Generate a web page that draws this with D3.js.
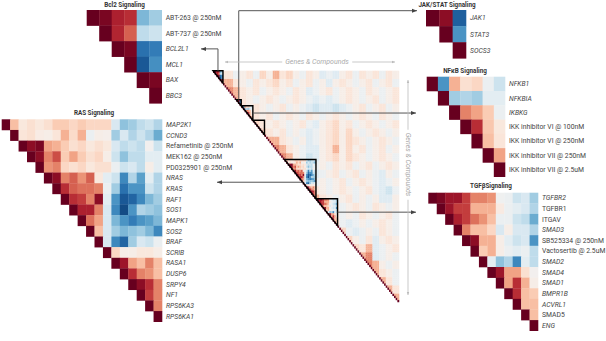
<!DOCTYPE html>
<html>
<head>
<meta charset="utf-8">
<script src="https://cdn.jsdelivr.net/npm/d3@7"></script>
<style>
body { margin: 0; background: #fff; }
text { font-family: Roboto, "Open Sans", sans-serif; }
</style>
</head>
<body>
<svg width="606" height="341"></svg>
<script>

// ---------- data ----------
// each values row starts at the diagonal (upper triangle only)
var bcl2Labels = ["ABT-263 @ 250nM", "ABT-737 @ 250nM", "BCL2L1", "MCL1", "BAX", "BBC3"];
var bcl2Values = [
  [1, 0.95, 0.8, 0.75, -0.45, -0.35],
  [1, 0.78, 0.6, -0.25, -0.2],
  [1, 0.95, -0.75, -0.7],
  [1, -0.85, -0.62],
  [1, 0.95],
  [1]
];

var jakLabels = ["JAK1", "STAT3", "SOCS3"];
var jakValues = [
  [1, 0.9, -0.82],
  [1, -0.6],
  [1]
];

var nfkbLabels = ["NFKB1", "NFKBIA", "IKBKG", "IKK inhibitor VI @ 100nM", "IKK inhibitor VI @ 250nM",
  "IKK inhibitor VII @ 250nM", "IKK inhibitor VII @ 2.5uM"];
var nfkbValues = [
  [1, -0.6, 0.35, 0.15, 0.2, -0.05, -0.2],
  [1, -0.35, -0.3, -0.35, -0.1, -0.1],
  [1, 0.5, 0.4, 0.25, -0.05],
  [1, 0.75, 0.27, 0.1],
  [1, 0.3, 0.12],
  [1, 0.4],
  [1]
];

var rasLabels = ["MAP2K1", "CCND3", "Refametinib @ 250nM", "MEK162 @ 250nM", "PD0325901 @ 250nM", "NRAS", "KRAS",
  "RAF1", "SOS1", "MAPK1", "SOS2", "BRAF", "SCRIB", "RASA1", "DUSP6", "SRPY4", "NF1", "RPS6KA3", "RPS6KA1"];
var rasValues = [
  [1, 0.3, 0.1, 0.15, 0.1, 0.15, 0.25, 0.25, 0.2, 0.25, 0.2, 0.2, 0.2, -0.15, -0.4, -0.35, -0.25, -0.2, -0.3],
  [1, 0.12, 0.15, 0.07, 0.05, 0.12, 0.35, 0.18, 0.35, -0.05, 0.05, 0.03, -0.35, -0.15, -0.3, -0.2, -0.3, -0.5],
  [1, 0.9, 0.95, 0.4, 0.35, 0.25, 0.15, 0.2, 0.1, 0.15, 0.1, -0.15, -0.25, -0.2, -0.25, 0, -0.2],
  [1, 0.9, 0.5, 0.65, 0.25, 0.4, 0.25, 0.15, 0.2, 0.05, -0.2, -0.4, -0.25, -0.25, -0.1, -0.1],
  [1, 0.45, 0.5, 0.2, 0.15, 0.2, 0.1, 0.15, 0.15, -0.05, -0.2, -0.15, -0.25, 0.05, -0.1],
  [1, 0.9, 0.5, 0.6, 0.45, 0.6, 0.1, -0.1, -0.2, -0.65, -0.3, -0.55, -0.1, -0.3],
  [1, 0.75, 0.6, 0.55, 0.55, 0.5, -0.05, -0.35, -0.75, -0.6, -0.6, -0.2, -0.3],
  [1, 0.75, 0.7, 0.5, 0.9, -0.1, -0.6, -0.85, -0.8, -0.65, -0.45, -0.35],
  [1, 0.8, 0.8, 0.5, -0.15, -0.65, -0.9, -0.6, -0.3, -0.35, -0.4],
  [1, 0.55, 0.4, -0.15, -0.45, -0.6, -0.7, -0.6, -0.55, -0.45],
  [1, 0.3, -0.15, -0.35, -0.45, -0.4, -0.35, -0.45, -0.65],
  [1, -0.15, -0.65, -0.8, -0.35, -0.15, -0.2, -0.05],
  [1, 0.2, 0.05, 0.05, 0.1, 0.1, 0.05],
  [1, 0.85, 0.4, 0.3, 0.5, 0.3],
  [1, 0.75, 0.5, 0.45, 0.3],
  [1, 0.9, 0.75, 0.5],
  [1, 0.7, 0.5],
  [1, 0.5],
  [1]
];

var tgfLabels = ["TGFBR2", "TGFBR1", "ITGAV", "SMAD3", "SB525334 @ 250nM", "Vactosertib @ 2.5uM", "SMAD2",
  "SMAD4", "SMAD1", "BMPR1B", "ACVRL1", "SMAD5", "ENG"];
var tgfValues = [
  [1, 0.95, 0.85, 0.85, 0.7, 0.5, 0.5, 0.45, -0.02, -0.05, -0.2, -0.15, -0.35],
  [1, 0.85, 0.7, 0.7, 0.35, 0.35, 0.35, 0.08, -0.05, -0.1, -0.15, -0.3],
  [1, 0.8, 0.7, 0.55, 0.45, 0.3, -0.05, -0.05, -0.2, -0.25, -0.5],
  [1, 0.5, 0.3, 0.3, 0.2, -0.15, 0.05, -0.15, -0.15, -0.3],
  [1, 0.9, 0.35, 0.35, 0.05, -0.1, -0.2, -0.15, -0.6],
  [1, 0.25, 0.35, 0.05, -0.05, -0.1, -0.05, -0.25],
  [1, -0.1, -0.4, -0.3, -0.65, -0.1, -0.25],
  [1, 0.85, 0.4, 0.4, 0.15, 0],
  [1, 0.4, 0.75, 0.35, 0.05],
  [1, 0.75, 0.3, 0.25],
  [1, 0.3, 0.3],
  [1, 0.3],
  [1]
];
var uprightGenes = ["TGFBR1", "ITGAV", "SMAD5"];

// full matrix: 112 genes & compounds, read in 4x4 blocks (each string starts at the diagonal block)
var centerN = 112;
var blockLevels = [-0.35, -0.2, -0.12, -0.05, 0, 0.05, 0.12, 0.2, 0.35, 0.5];
var centerBlocks = [
  "9663563758675365232563656365",
  "886536567563563525653563563",
  "98656356536523563565365356",
  "8653565356532323565356356",
  "656535635321221235635635",
  "66563565365356535653653",
  "7656535632567563565356",
  "765635323567575356535",
  "88653523567576535653",
  "9865322568575635635",
  "985312567576535653",
  "86523536563563565",
  "8632356356353253",
  "863535635653235",
  "86535653563213",
  "8653563535225",
  "876356536535",
  "86353653563",
  "7323535653",
  "732353653",
  "75362565",
  "7682356",
  "892353",
  "98535",
  "8653",
  "863",
  "86",
  "8"
];
// where each highlighted block sits in the full matrix
var groupStarts = [0, 14, 17, 24, 43, 62];

// ---------- drawing ----------
var svg = d3.select("svg");
var color = d3.scaleDiverging(d3.interpolateRdBu).domain([1, 0, -1]);

var defs = svg.append("defs");
function marker(id, fill, size) {
  defs.append("marker")
      .attr("id", id)
      .attr("viewBox", "0 0 10 10")
      .attr("refX", 10).attr("refY", 5)
      .attr("markerWidth", size).attr("markerHeight", size)
      .attr("orient", "auto-start-reverse")
    .append("path")
      .attr("d", "M0,1L10,5L0,9Z")
      .attr("fill", fill);
}
marker("arr", "#444", 5);
marker("garr", "#bbb", 4);

// ---- small panels ----
var panels = [
  {title: "Bcl2 Signaling", labels: bcl2Labels, values: bcl2Values, x0: 86.7, x1: 161.7, y0: 10, y1: 103.3, tx: 124.5, ty: 4.5},
  {title: "JAK/STAT Signaling", labels: jakLabels, values: jakValues, x0: 426, x1: 466, y0: 10, y1: 58.3, tx: 447, ty: 4.5},
  {title: "NF\u03baB Signaling", labels: nfkbLabels, values: nfkbValues, x0: 426.7, x1: 505, y0: 76.7, y1: 176.7, tx: 465, ty: 70.5},
  {title: "RAS Signaling", labels: rasLabels, values: rasValues, x0: 1.7, x1: 162, y0: 119.3, y1: 321.7, tx: 94, ty: 112.7},
  {title: "TGF\u03b2Signaling", labels: tgfLabels, values: tgfValues, x0: 428.3, x1: 538, y0: 192.7, y1: 330.7, tx: 491, ty: 186}
];

panels.forEach(function(p) {
  var n = p.labels.length;
  var x = d3.scaleBand().domain(d3.range(n)).range([p.x0, p.x1]);
  var y = d3.scaleBand().domain(d3.range(n)).range([p.y0, p.y1]);
  p.y = y;
  var cells = [];
  p.values.forEach(function(row, i) {
    row.forEach(function(v, k) { cells.push({i: i, j: i + k, v: v}); });
  });
  var g = svg.append("g");
  g.selectAll("rect")
    .data(cells)
    .enter().append("rect")
      .attr("x", function(d) { return x(d.j); })
      .attr("y", function(d) { return y(d.i); })
      .attr("width", x.bandwidth() + 0.3)
      .attr("height", y.bandwidth() + 0.3)
      .attr("fill", function(d) { return color(d.v); });

  g.selectAll(".lab")
    .data(p.labels)
    .enter().append("text")
      .attr("class", "lab")
      .attr("x", p.x1 + 4)
      .attr("y", function(d, i) { return y(i) + y.bandwidth() / 2; })
      .attr("dy", "0.35em")
      .attr("font-size", 6.8)
      .attr("fill", "#444")
      .attr("font-style", function(d) {
        return (d.indexOf("@") >= 0 || uprightGenes.indexOf(d) >= 0) ? "normal" : "italic";
      })
      .text(function(d) { return d; });

  g.append("text")
      .attr("x", p.tx)
      .attr("y", p.ty)
      .attr("dy", "0.35em")
      .attr("text-anchor", "middle")
      .attr("font-size", 6.3)
      .attr("font-weight", "bold")
      .attr("fill", "#333")
      .text(p.title);
});

// ---- full matrix ----
var cx = d3.scaleLinear().domain([0, centerN]).range([213, 399]);
var cy = d3.scaleLinear().domain([0, centerN]).range([70.7, 302]);
var cw = cx(1) - cx(0), chh = cy(1) - cy(0);

var groups = [
  {start: groupStarts[0], values: bcl2Values},
  {start: groupStarts[1], values: jakValues},
  {start: groupStarts[2], values: nfkbValues},
  {start: groupStarts[3], values: null, n: 7},
  {start: groupStarts[4], values: rasValues},
  {start: groupStarts[5], values: tgfValues}
];

function centerValue(i, j) {
  if (i === j) return 1;
  for (var k = 0; k < groups.length; k++) {
    var g = groups[k];
    if (g.values && i >= g.start && j < g.start + g.values.length) return g.values[i - g.start][j - i];
  }
  var bi = Math.floor(i / 4), bj = Math.floor(j / 4);
  var ch = centerBlocks[bi].charAt(bj - bi) || "4";
  return blockLevels[+ch];
}

var big = [];
for (var i = 0; i < centerN; i++) {
  for (var j = i; j < centerN; j++) big.push({i: i, j: j, v: centerValue(i, j)});
}

svg.append("g").selectAll("rect")
  .data(big)
  .enter().append("rect")
    .attr("x", function(d) { return cx(d.j); })
    .attr("y", function(d) { return cy(d.i); })
    .attr("width", cw + 0.25)
    .attr("height", chh + 0.25)
    .attr("fill", function(d) { return color(d.v); });

// highlighted triangles
svg.append("g").selectAll("path")
  .data(groups)
  .enter().append("path")
    .attr("d", function(g) {
      var n = g.values ? g.values.length : g.n;
      return "M" + cx(g.start) + "," + cy(g.start) + "H" + cx(g.start + n) + "V" + cy(g.start + n) + "Z";
    })
    .attr("fill", "none")
    .attr("stroke", "#000")
    .attr("stroke-width", 1.4)
    .attr("stroke-linejoin", "miter");

// arrows to the panels
var bclY = panels[0].y;
var arrows = [
  "M" + cx(3) + "," + cy(0) + "V" + (bclY(2) + bclY.bandwidth() / 2) + "H201",
  "M" + cx(15.5) + "," + cy(14) + "V10.7H417",
  "M" + cx(24) + "," + cy(20.5) + "H416",
  "M" + cx(54) + "," + cy(54) + "H217",
  "M" + cx(75) + "," + cy(68.5) + "H416"
];
svg.append("g").selectAll("path")
  .data(arrows)
  .enter().append("path")
    .attr("d", function(d) { return d; })
    .attr("fill", "none")
    .attr("stroke", "#555")
    .attr("stroke-width", 1)
    .attr("marker-end", "url(#arr)");

// axis captions
function caption(transform, len, offset) {
  var g = svg.append("g").attr("transform", transform);
  g.append("line")
      .attr("x1", -len / 2).attr("x2", len / 2)
      .attr("stroke", "#bbb").attr("stroke-width", 0.8)
      .attr("marker-start", "url(#garr)")
      .attr("marker-end", "url(#garr)");
  var bg = g.append("rect").attr("fill", "#fff");
  var t = g.append("text")
      .attr("x", offset)
      .attr("dy", "0.35em")
      .attr("text-anchor", "middle")
      .attr("font-size", 7)
      .attr("font-style", "italic")
      .attr("fill", "#aaa")
      .text("Genes & Compounds");
  var b = t.node().getBBox();
  bg.attr("x", b.x - 3).attr("y", b.y).attr("width", b.width + 6).attr("height", b.height);
}
caption("translate(310,62)", 170, 7);
caption("translate(408,187.5) rotate(90)", 215, -23);

</script>
</body>
</html>
